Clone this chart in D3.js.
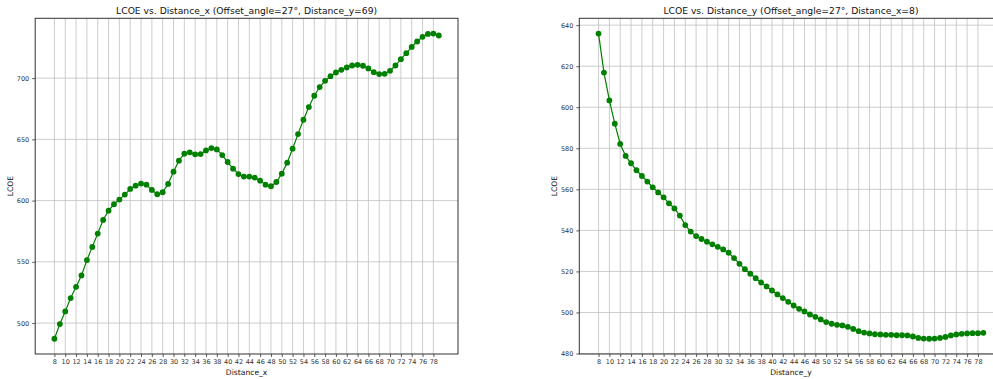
<!DOCTYPE html>
<html>
<head>
<meta charset="utf-8">
<script src="https://cdn.jsdelivr.net/npm/d3@7"></script>
<style>
  html, body { margin: 0; padding: 0; background: #fff; }
  svg { display: block; font-family: "DejaVu Sans", sans-serif; }
</style>
</head>
<body>
<svg id="chart" width="993" height="379"></svg>
<script>
// Distance grid shared by both panels
const distances = d3.range(8, 80);

// LCOE sweeping Distance_x (Offset_angle=27°, Distance_y=69)
const lcoeVsX = [
  487.2, 499.2, 509.5, 520.4, 529.6, 538.9, 551.4, 562.2, 573.1, 584.2,
  591.8, 597.0, 600.8, 604.9, 609.5, 612.2, 613.9, 613.0, 608.7, 605.2,
  606.8, 613.6, 623.6, 632.6, 638.3, 639.4, 637.8, 638.0, 641.0, 642.9,
  641.8, 637.2, 631.5, 626.1, 621.7, 619.6, 619.6, 618.8, 616.3, 613.0,
  611.7, 615.2, 622.0, 631.0, 642.4, 654.3, 666.0, 676.4, 685.6, 692.7,
  697.8, 701.6, 704.6, 706.8, 708.7, 710.3, 710.9, 710.1, 707.9, 704.9,
  703.3, 703.5, 706.0, 710.3, 715.5, 720.4, 725.5, 729.9, 733.7, 736.1,
  736.4, 734.8
];

// LCOE sweeping Distance_y (Offset_angle=27°, Distance_x=8)
const lcoeVsY = [
  635.9, 616.9, 603.3, 592.0, 582.1, 576.3, 572.7, 569.3, 566.5, 563.8,
  561.0, 558.5, 556.1, 553.2, 550.7, 547.2, 542.6, 539.4, 537.2, 535.8,
  534.5, 533.2, 532.0, 530.7, 529.1, 526.5, 523.7, 521.1, 518.9, 516.7,
  514.6, 512.7, 510.7, 508.8, 507.0, 505.2, 503.4, 501.8, 500.5, 499.0,
  497.9, 496.6, 495.3, 494.5, 494.0, 493.7, 493.0, 492.0, 490.9, 490.2,
  489.8, 489.4, 489.3, 489.1, 489.1, 488.9, 488.9, 488.8, 488.3, 487.6,
  487.3, 487.2, 487.3, 487.6, 488.1, 488.8, 489.3, 489.6, 489.8, 489.9,
  489.9, 490.1
];

const xTicks = d3.range(8, 80, 2);
const yTicksLeft = [500, 550, 600, 650, 700];
const yTicksRight = [480, 500, 520, 540, 560, 580, 600, 620, 640];

const panels = [
  {
    title: "LCOE vs. Distance_x (Offset_angle=27°, Distance_y=69)",
    xLabel: "Distance_x",
    values: lcoeVsX,
    yTicks: yTicksLeft,
    box: { left: 35.2, right: 458, top: 18.3, bottom: 354 }
  },
  {
    title: "LCOE vs. Distance_y (Offset_angle=27°, Distance_x=8)",
    xLabel: "Distance_y",
    values: lcoeVsY,
    yTicks: yTicksRight,
    box: { left: 579.3, right: 1002.6, top: 18.3, bottom: 354 }
  }
];

const svg = d3.select("#chart");
const lineColor = "#008000";
const gridColor = "#c0c0c0";

// matplotlib-style 5% padding around the data range
function padded(extent) {
  const pad = (extent[1] - extent[0]) * 0.05;
  return [extent[0] - pad, extent[1] + pad];
}

panels.forEach(p => {
  const b = p.box;
  const data = distances.map((d, i) => ({ d, v: p.values[i] }));

  const x = d3.scaleLinear().domain(padded(d3.extent(distances))).range([b.left, b.right]);
  const y = d3.scaleLinear().domain(padded(d3.extent(p.values))).range([b.bottom, b.top]);

  const g = svg.append("g");

  // grid
  g.append("g").selectAll("line.vx").data(xTicks).join("line")
    .attr("x1", d => x(d)).attr("x2", d => x(d))
    .attr("y1", b.top).attr("y2", b.bottom)
    .attr("stroke", gridColor).attr("stroke-width", 0.8);
  g.append("g").selectAll("line.hy").data(p.yTicks).join("line")
    .attr("x1", b.left).attr("x2", b.right)
    .attr("y1", d => y(d)).attr("y2", d => y(d))
    .attr("stroke", gridColor).attr("stroke-width", 0.8);

  // axes
  const xAxis = d3.axisBottom(x).tickValues(xTicks).tickSize(3).tickPadding(2).tickFormat(d3.format("d"));
  const yAxis = d3.axisLeft(y).tickValues(p.yTicks).tickSize(3).tickPadding(3).tickFormat(d3.format("d"));

  const gx = g.append("g").attr("transform", `translate(0,${b.bottom})`).call(xAxis);
  const gy = g.append("g").attr("transform", `translate(${b.left},0)`).call(yAxis);
  [gx, gy].forEach(a => {
    a.select(".domain").remove();
    a.selectAll(".tick line").attr("stroke", "#333").attr("stroke-width", 0.8);
    a.selectAll(".tick text").attr("fill", "#333").style("font-size", "6.5px")
      .style("font-family", "DejaVu Sans, sans-serif");
  });

  // frame
  g.append("rect")
    .attr("x", b.left).attr("y", b.top)
    .attr("width", b.right - b.left).attr("height", b.bottom - b.top)
    .attr("fill", "none").attr("stroke", "#333").attr("stroke-width", 1);

  // series
  g.append("path").datum(data)
    .attr("fill", "none").attr("stroke", lineColor).attr("stroke-width", 1.2)
    .attr("d", d3.line().x(d => x(d.d)).y(d => y(d.v)));
  g.append("g").selectAll("circle").data(data).join("circle")
    .attr("cx", d => x(d.d)).attr("cy", d => y(d.v)).attr("r", 2.9)
    .attr("fill", lineColor);

  // labels
  const cx = (b.left + b.right) / 2;
  g.append("text").attr("x", cx).attr("y", 14.3).attr("text-anchor", "middle")
    .style("font-size", "9.2px").attr("fill", "#111").text(p.title);
  g.append("text").attr("x", cx).attr("y", 375).attr("text-anchor", "middle")
    .style("font-size", "7.6px").attr("fill", "#111").text(p.xLabel);
  g.append("text")
    .attr("transform", `translate(${b.left - 22},${(b.top + b.bottom) / 2}) rotate(-90)`)
    .attr("text-anchor", "middle")
    .style("font-size", "7.6px").attr("fill", "#111").text("LCOE");
});
</script>
</body>
</html>
